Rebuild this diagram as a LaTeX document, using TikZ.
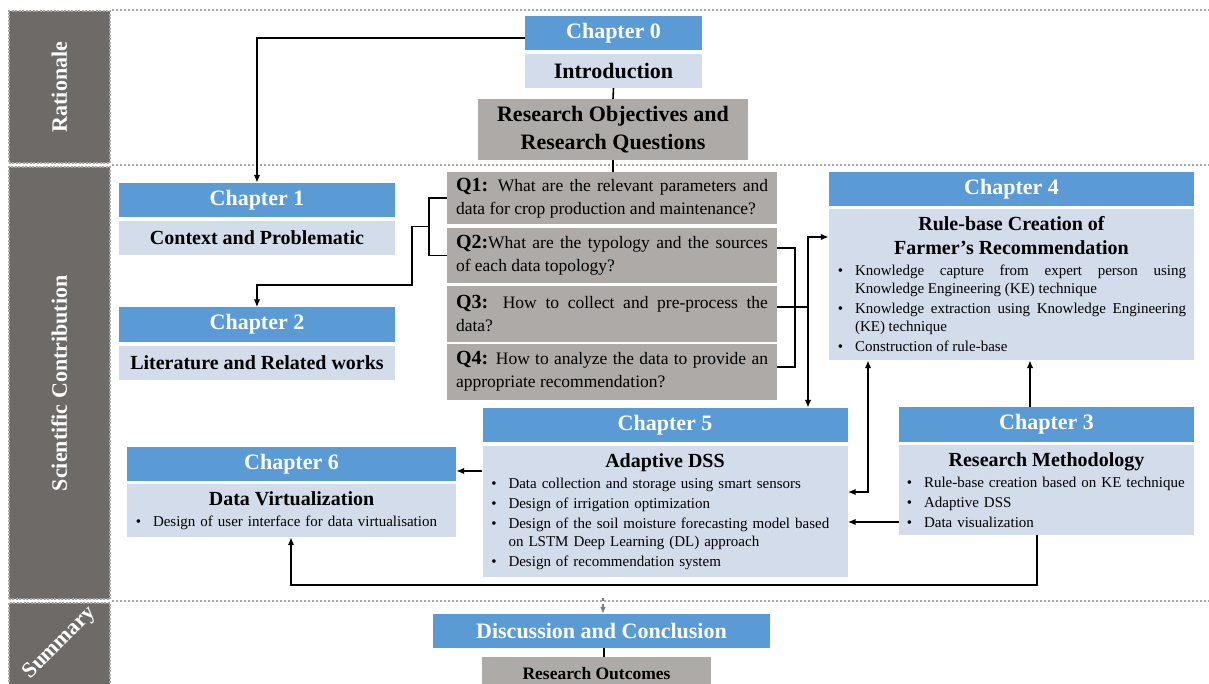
\documentclass[tikz,border=0pt]{standalone}
\usepackage{fontspec}
\setmainfont{Liberation Serif}
\usetikzlibrary{arrows.meta}

\definecolor{chapblue}{HTML}{5B9BD5}
\definecolor{bodyblue}{HTML}{D2DCEA}
\definecolor{qgray}{HTML}{AEAAA8}
\definecolor{bargray}{HTML}{6E6A68}
\definecolor{dotgray}{HTML}{A6A6A6}
\definecolor{arrgray}{HTML}{7F7F7F}

\newcommand{\fsz}[2]{\fontsize{#1}{#2}\selectfont}
\newenvironment{bulletlist}{\begin{list}{\textbullet}{\setlength{\leftmargin}{18pt}\setlength{\labelwidth}{6pt}\setlength{\labelsep}{12pt}\setlength{\itemsep}{2pt}\setlength{\parsep}{0pt}\setlength{\topsep}{3pt}\setlength{\partopsep}{0pt}}}{\end{list}}

\begin{document}
\begin{tikzpicture}[x=1pt,y=-1pt,
  chap/.style={shape=rectangle, fill=chapblue, text=white, inner sep=0pt, minimum height=34pt, font=\bfseries\fsz{22}{26}},
  sub/.style={shape=rectangle, fill=bodyblue, inner sep=0pt, minimum height=34pt, font=\bfseries\fsz{20}{24}},
  bodybox/.style={shape=rectangle, fill=bodyblue, inner xsep=8pt, inner ysep=0pt, font=\fsz{15}{18}},
  ques/.style={shape=rectangle, fill=qgray, inner xsep=9pt, inner ysep=0pt, text width=312pt, align=justify, font=\fsz{17.5}{23}},
  bar/.style={shape=rectangle, fill=bargray, draw=dotgray, line width=2pt, dash pattern=on 2pt off 1.5pt, inner sep=0pt, minimum width=101.5pt},
  bartext/.style={text=white, font=\bfseries\fsz{22}{26}},
  sep/.style={draw=dotgray, line width=2pt, dash pattern=on 2pt off 2pt},
  link/.style={line width=1.6pt},
  arr/.style={link, -{Latex[length=8pt,width=6.5pt]}},
  biarr/.style={link, {Latex[length=8pt,width=6.5pt]}-{Latex[length=8pt,width=6.5pt]}},
  darr/.style={line width=1.5pt, arrgray, dashed, -{Latex[length=7pt,width=6pt]}}]
%%%%%%%%%%%%%%%%%%%%%%%%%%%%%%%%%%%%%%%%%%% HELP LINES
%\draw[help lines] (0,0) grid[step=50] (1209,684);
\useasboundingbox (0,0) rectangle (1209,684);
\clip (0,0) rectangle (1209,684);

%%%%%%%%%%%%%%%%%%%%%%%%%%%%%%%%%%%%%%%%%%% side bars
\node[bar, minimum height=152pt](rat) at (59.25,87){};
\node[bar, minimum height=431.5pt](sci) at (59.25,383.25){};
\node[bar, minimum height=97.5pt](summ) at (59.25,651.25){};
\node[bartext, rotate=90](ratlabel) at (rat.center){Rationale};
\node[bartext, rotate=90](scilabel) at (sci.center){Scientific Contribution};
\node[bartext, rotate=45](summlabel) at (60,643){Summary};
\draw[sep] (112,10.5) -- (1209,10.5);
\draw[sep] (112,165.5) -- (1209,165.5);
\draw[sep] (112,600.75) -- (1209,600.75);

%%%%%%%%%%%%%%%%%%%%%%%%%%%%%%%%%%%%%%%%%%% rationale
\node[chap, minimum width=177pt](ch0) at (613.5,33){Chapter 0};
\node[sub, minimum width=177pt, font=\bfseries\fsz{22}{26}](intro) at (613.5,71){Introduction};
\node[shape=rectangle, fill=qgray, minimum width=270pt, minimum height=61pt, align=center, font=\bfseries\fsz{22}{28}](objectives) at (613,129.5){Research Objectives and\\Research Questions};

%%%%%%%%%%%%%%%%%%%%%%%%%%%%%%%%%%%%%%%%%%% chapters 1 and 2
\node[chap, minimum width=276pt](ch1) at (257,200){Chapter 1};
\node[sub, minimum width=276pt](ctx) at (257,238){Context and Problematic};
\node[chap, minimum width=276pt](ch2) at (257,324.5){Chapter 2};
\node[sub, minimum width=276pt](lit) at (257,363){Literature and Related works};

%%%%%%%%%%%%%%%%%%%%%%%%%%%%%%%%%%%%%%%%%%% research questions
\node[ques, minimum height=52pt](q1) at (612,198){\textbf{\fsz{20}{23}Q1:} What are the relevant parameters and\linebreak data for crop production and maintenance?};
\node[ques, minimum height=55pt](q2) at (612,255.5){\textbf{\fsz{20}{23}Q2:}What are the typology and the sources\linebreak of each data topology?};
\node[ques, minimum height=56pt](q3) at (612,314){\textbf{\fsz{20}{23}Q3:} How to collect and pre-process the\linebreak data?};
\node[ques, minimum height=56pt](q4) at (612,371.5){\textbf{\fsz{20}{23}Q4:} How to analyze the data to provide an\linebreak appropriate recommendation?};

%%%%%%%%%%%%%%%%%%%%%%%%%%%%%%%%%%%%%%%%%%% chapter 4
\node[chap, minimum width=365pt](ch4) at (1011.5,189){Chapter 4};
\node[bodybox, minimum width=365pt, minimum height=151pt, text width=349pt, align=justify](rule) at (1011.5,284.5){{\centering\bfseries\fsz{20}{24}Rule-base Creation of\par Farmer's Recommendation\par}
\begin{bulletlist}
\item Knowledge capture from expert person using\linebreak Knowledge Engineering (KE) technique
\item Knowledge extraction using Knowledge Engineering\linebreak (KE) technique
\item Construction of rule-base
\end{bulletlist}};

%%%%%%%%%%%%%%%%%%%%%%%%%%%%%%%%%%%%%%%%%%% chapter 5
\node[chap, minimum width=365pt](ch5) at (665,425){Chapter 5};
\node[bodybox, minimum width=365pt, minimum height=131pt, text width=349pt, align=left](dss) at (665,511.5){{\centering\bfseries\fsz{20}{24}Adaptive DSS\par}
\begin{bulletlist}
\item Data collection and storage using smart sensors
\item Design of irrigation optimization
\item Design of the soil moisture forecasting model based\newline on LSTM Deep Learning (DL) approach
\item Design of recommendation system
\end{bulletlist}};

%%%%%%%%%%%%%%%%%%%%%%%%%%%%%%%%%%%%%%%%%%% chapter 3
\node[chap, minimum width=295pt, minimum height=35pt](ch3) at (1046.5,424.5){Chapter 3};
\node[bodybox, minimum width=295pt, minimum height=90pt, text width=281pt, inner xsep=7pt, align=left](method) at (1046.5,490){{\centering\bfseries\fsz{20}{22}Research Methodology\par}
\begin{bulletlist}
\item Rule-base creation based on KE technique
\item Adaptive DSS
\item Data visualization
\end{bulletlist}};

%%%%%%%%%%%%%%%%%%%%%%%%%%%%%%%%%%%%%%%%%%% chapter 6
\node[chap, minimum width=329pt](ch6) at (291.5,464){Chapter 6};
\node[bodybox, minimum width=329pt, minimum height=53pt, text width=313pt, align=left](virt) at (291.5,510.5){{\centering\bfseries\fsz{20}{24}Data Virtualization\par}
\begin{bulletlist}
\item Design of user interface for data virtualisation
\end{bulletlist}};

%%%%%%%%%%%%%%%%%%%%%%%%%%%%%%%%%%%%%%%%%%% summary
\node[chap, minimum width=337pt](disc) at (601.5,631){Discussion and Conclusion};
\node[shape=rectangle, fill=qgray, minimum width=229pt, minimum height=34pt, font=\bfseries\fsz{17.5}{21}](outcomes) at (596.5,674){Research Outcomes};

%%%%% connectors
\coordinate (qa) at (429,226.5);
\coordinate (qb) at (412,285);
\coordinate (qd) at (808,307);
\coordinate (r1) at (868,492);
\coordinate (r2) at (1030,0);
\coordinate (r3) at (0,522);
\coordinate (r4) at (0,471);
\coordinate (r5) at (1037,585);
\coordinate (r6) at (291,585);
\coordinate (s0) at (603,598);
\coordinate (s1) at (604,0);
\draw[arr] ([yshift=-5pt]ch0.west) -| (ch1.north);
\draw[link] (intro.south) -- (objectives.north);
\draw[link] (objectives.south) -- (q1.north -| objectives.south);
\draw[link] (q1.west) -| (qa) |- (q2.west);
\draw[arr] (qa) -| (qb) -| (ch2.north);
\draw[link] ([yshift=7.5pt]q2.east) -| ([xshift=18pt,yshift=4.5pt]q4.east) -- ([yshift=4.5pt]q4.east);
\draw[link] ([yshift=7pt]q3.east) -- (qd);
\draw[arr] (qd) |- ([yshift=47.5pt]rule.west);
\draw[arr] (qd) -- (qd |- ch5.north);
\draw[biarr] (rule.south -| r1) |- (dss.east |- r1);
\draw[arr] (ch3.north -| r2) -- (rule.south -| r2);
\draw[arr] (method.west |- r3) -- (dss.east |- r3);
\draw[arr] (dss.west |- r4) -- (ch6.east |- r4);
\draw[arr] (method.south -| r5) -- (r5) -- (r6) -- (virt.south -| r6);
\draw[darr] (s0) -- (disc.north -| s0);
\draw[link] (disc.south -| s1) -- (outcomes.north -| s1);
\end{tikzpicture}
\end{document}
